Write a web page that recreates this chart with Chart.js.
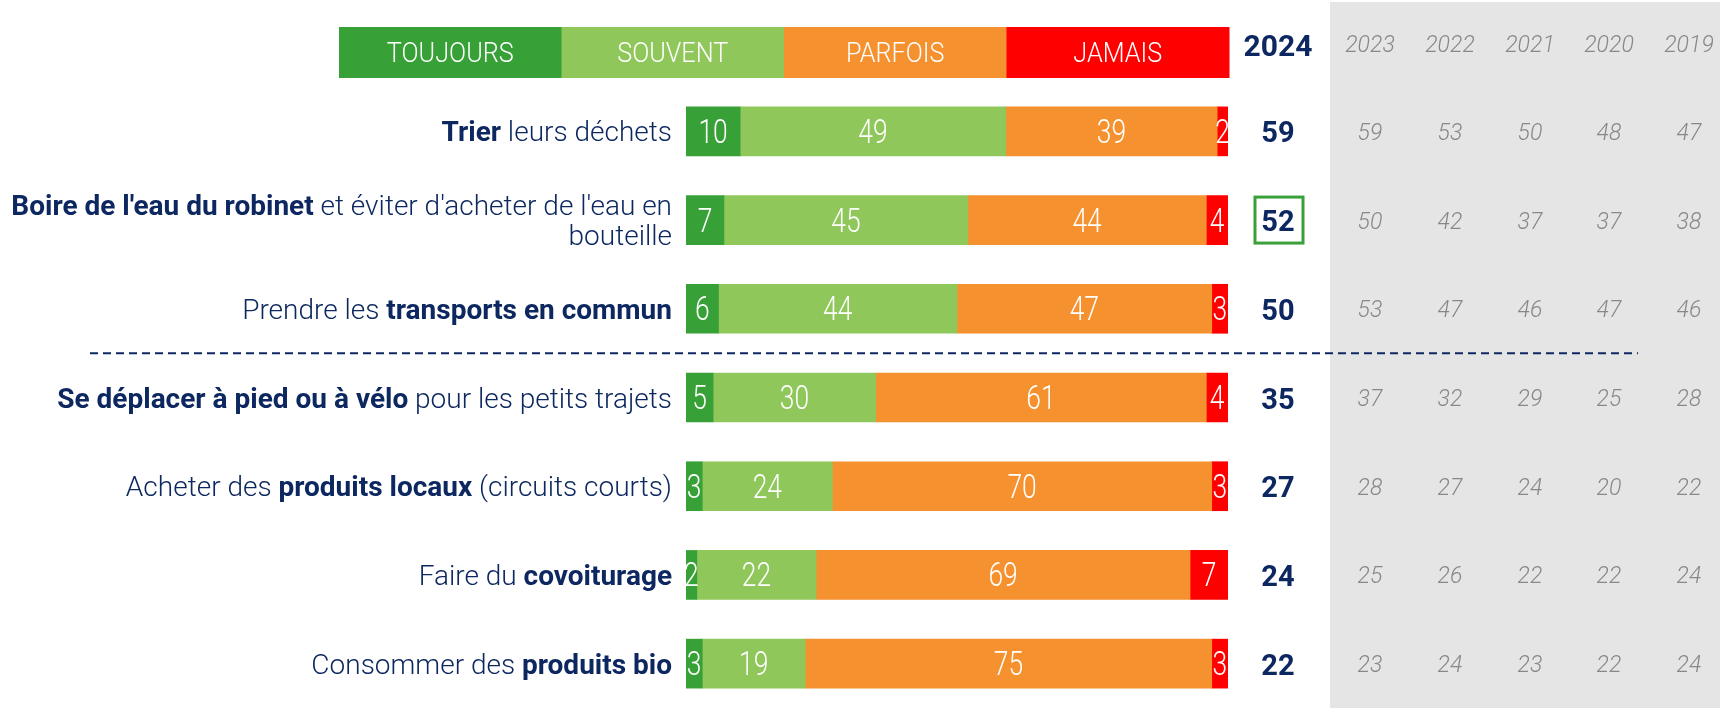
<!DOCTYPE html>
<html><head><meta charset="utf-8">
<script src="https://cdn.jsdelivr.net/npm/chart.js@4"></script>
<style>html,body{margin:0;padding:0;background:#fff}#w{width:1720px;height:708px;position:relative}</style>
</head><body><div id="w"><canvas id="c" width="1720" height="708"></canvas></div>
<script>
const categories = ['Trier leurs déchets',"Boire de l'eau du robinet et éviter d'acheter de l'eau en bouteille",'Prendre les transports en commun','Se déplacer à pied ou à vélo pour les petits trajets','Acheter des produits locaux (circuits courts)','Faire du covoiturage','Consommer des produits bio'];
// rich label parts: each row -> lines -> [text, bold]
const labelLines = [
  [[['Trier',1],[' leurs déchets',0]]],
  [[["Boire de l'eau du robinet",1],[" et éviter d'acheter de l'eau en",0]],[['bouteille',0]]],
  [[['Prendre les ',0],['transports en commun',1]]],
  [[['Se déplacer à pied ou à vélo',1],[' pour les petits trajets',0]]],
  [[['Acheter des ',0],['produits locaux',1],[' (circuits courts)',0]]],
  [[['Faire du ',0],['covoiturage',1]]],
  [[['Consommer des ',0],['produits bio',1]]]
];
const seriesNames = ['TOUJOURS','SOUVENT','PARFOIS','JAMAIS'];
const toujours = [10,7,6,5,3,2,3];
const souvent  = [49,45,44,30,24,22,19];
const parfois  = [39,44,47,61,70,69,75];
const jamais   = [2,4,3,4,3,7,3];
const total2024 = [59,52,50,35,27,24,22];
const yearLabels = ['2023','2022','2021','2020','2019'];
const y2023 = [59,50,53,37,28,25,23];
const y2022 = [53,42,47,32,27,26,24];
const y2021 = [50,37,46,29,24,22,23];
const y2020 = [48,37,47,25,20,22,22];
const y2019 = [47,38,46,28,22,24,24];
const history = [y2023,y2022,y2021,y2020,y2019];
const highlightRow = 1;
const separatorAfter = 2;

const colors = ['#37a137','#8fc75b','#f5912f','#ff0000'];
const NAVY = '#0d2860';
const GREY = '#888888';
const FONT = 'Roboto, "Liberation Sans", sans-serif';

function condensed(ctx, text, x, y, sx) {
  ctx.save(); ctx.translate(x, y); ctx.scale(sx, 1); ctx.fillText(text, 0, 0); ctx.restore();
}

const extras = {
  id:'extras',
  beforeDraw(chart){
    const ctx = chart.ctx;
    ctx.save();
    ctx.fillStyle = '#e5e5e5';
    ctx.fillRect(1330, 2, 390, 706);
    ctx.restore();
  },
  afterDatasetsDraw(chart){
    const ctx = chart.ctx;
    const ys = chart.scales.y;
    ctx.save();
    ctx.textBaseline = 'alphabetic';
    // in-bar values
    ctx.fillStyle = '#fff';
    ctx.font = '300 33px ' + FONT;
    ctx.textAlign = 'center';
    chart.data.datasets.forEach((ds, di) => {
      const meta = chart.getDatasetMeta(di);
      meta.data.forEach((bar, i) => {
        condensed(ctx, String(ds.data[i]), (bar.x + bar.base)/2, bar.y + 11.5, 0.8);
      });
    });
    // legend bar
    const lx0 = 339, lx1 = 1229, ly0 = 27, ly1 = 78;
    const segW = (lx1 - lx0)/seriesNames.length;
    seriesNames.forEach((n, i) => {
      ctx.fillStyle = colors[i];
      ctx.fillRect(lx0 + i*segW, ly0, segW + 0.5, ly1 - ly0);
      ctx.fillStyle = '#fff';
      ctx.font = '300 28px ' + FONT;
      condensed(ctx, n, lx0 + (i+0.5)*segW, (ly0+ly1)/2 + 9.5, 0.9);
    });
    // headers
    ctx.fillStyle = NAVY;
    ctx.font = 'bold 30px ' + FONT;
    ctx.fillText('2024', 1278, 56);
    const colX = [1370,1450,1530,1609,1689];
    ctx.fillStyle = GREY;
    ctx.font = 'italic 300 23px ' + FONT;
    yearLabels.forEach((y, k) => ctx.fillText(y, colX[k], 52));
    // rows
    labelLines.forEach((lines, i) => {
      const yc = ys.getPixelForValue(i);
      const n = lines.length;
      lines.forEach((parts, j) => {
        const yy = yc + (j - (n-1)/2) * 30 + 10;
        let total = 0;
        parts.forEach(p => { ctx.font = (p[1] ? 'bold ' : '300 ') + '28px ' + FONT; total += ctx.measureText(p[0]).width; });
        let x = 672 - total;
        ctx.textAlign = 'left';
        ctx.fillStyle = NAVY;
        parts.forEach(p => { ctx.font = (p[1] ? 'bold ' : '300 ') + '28px ' + FONT; ctx.fillText(p[0], x, yy); x += ctx.measureText(p[0]).width; });
      });
      ctx.textAlign = 'center';
      ctx.fillStyle = NAVY;
      ctx.font = 'bold 29px ' + FONT;
      ctx.fillText(String(total2024[i]), 1278, yc + 11);
      ctx.fillStyle = GREY;
      ctx.font = 'italic 300 23px ' + FONT;
      history.forEach((arr, k) => ctx.fillText(String(arr[i]), colX[k], yc + 8.5));
      if (i === highlightRow) {
        ctx.strokeStyle = '#3aa03a'; ctx.lineWidth = 3;
        ctx.strokeRect(1255, yc - 23, 48, 46);
      }
    });
    // separator
    const sy = (ys.getPixelForValue(separatorAfter) + ys.getPixelForValue(separatorAfter+1))/2;
    ctx.strokeStyle = NAVY; ctx.lineWidth = 2; ctx.setLineDash([8,5]);
    ctx.beginPath(); ctx.moveTo(90, sy); ctx.lineTo(1638, sy); ctx.stroke();
    ctx.restore();
  }
};

new Chart(document.getElementById('c'), {
  type:'bar',
  data:{
    labels: categories,
    datasets: [toujours, souvent, parfois, jamais].map((d, i) => ({
      label: seriesNames[i], data: d, backgroundColor: colors[i],
      borderWidth: 0, barThickness: 49
    }))
  },
  options:{
    indexAxis:'y', responsive:false, animation:false,
    layout:{padding:{left:686, right:492, top:87, bottom:0}},
    plugins:{legend:{display:false}, tooltip:{enabled:false}},
    scales:{
      x:{stacked:true, min:0, max:100, display:false},
      y:{stacked:true, display:false}
    }
  },
  plugins:[extras]
});
</script></body></html>
